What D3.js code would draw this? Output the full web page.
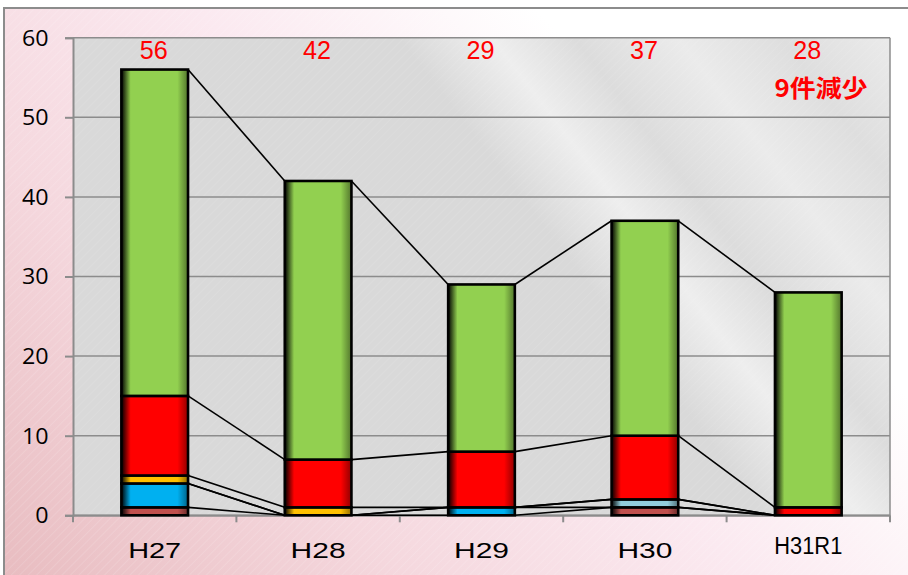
<!DOCTYPE html>
<html><head><meta charset="utf-8">
<script src="https://cdn.jsdelivr.net/npm/d3@7"></script>
<style>html,body{margin:0;padding:0;background:#fff;}svg{display:block;}</style>
</head><body>
<script>
// ---- data ----
const categories = ["H27", "H28", "H29", "H30", "H31R1"];
const seriesNames = ["s1", "s2", "s3", "s4", "s5", "s6"];
const s1 = [1, 0, 0, 1, 0];     // brown
const s2 = [3, 0, 1, 0, 0];     // blue
const s3 = [0, 0, 0, 1, 0];     // light blue
const s4 = [1, 1, 0, 0, 0];     // yellow
const s5 = [10, 6, 7, 8, 1];    // red
const s6 = [41, 35, 21, 27, 27];// green
const totals = [56, 42, 29, 37, 28];
const yTicks = [0, 10, 20, 30, 40, 50, 60];
const note = "9件減少";
const colors = ["#c0504d", "#00b0f0", "#92cddc", "#ffc000", "#ff0000", "#92d050"];

const W = 908, H = 575;
const svg = d3.select("body").append("svg").attr("width", W).attr("height", H);
const defs = svg.append("defs");

// outer background gradient
const og = defs.append("linearGradient").attr("id", "outerBg")
  .attr("gradientUnits", "userSpaceOnUse").attr("x1", 0).attr("y1", 575).attr("x2", 700).attr("y2", -100);
[[0, "#e8bcc0"], [0.3, "#f5d8de"], [0.55, "#fbe9f0"], [0.8, "#ffffff"], [1, "#ffffff"]]
  .forEach(([o, c]) => og.append("stop").attr("offset", o).attr("stop-color", c));

// plot background gradient (brushed)
const pg = defs.append("linearGradient").attr("id", "plotBg")
  .attr("gradientUnits", "userSpaceOnUse").attr("x1", 250).attr("y1", 450).attr("x2", 900).attr("y2", -50);
[[0, "#d9d9d9"], [0.45, "#d9d9d9"], [0.54, "#eeeeee"], [0.62, "#dcdcdc"], [0.72, "#ebebeb"], [0.82, "#dedede"], [0.92, "#eaeaea"], [1, "#f6f6f6"]]
  .forEach(([o, c]) => pg.append("stop").attr("offset", o).attr("stop-color", c));

// hatch pattern
const hp = defs.append("pattern").attr("id", "hatch").attr("patternUnits", "userSpaceOnUse")
  .attr("width", 6).attr("height", 6).attr("patternTransform", "rotate(45)");
hp.append("line").attr("x1", 0).attr("y1", 0).attr("x2", 0).attr("y2", 6)
  .attr("stroke", "#ffffff").attr("stroke-width", 1).attr("stroke-opacity", 0.25);

// bar gradients
colors.forEach((c, i) => {
  const g = defs.append("linearGradient").attr("id", "bar" + i).attr("x1", 0).attr("y1", 0).attr("x2", 1).attr("y2", 0);
  const dark = d3.color(c).darker(1.6);
  [[0, "#000000"], [0.14, c], [0.84, c], [1, dark.formatHex()]]
    .forEach(([o, col]) => g.append("stop").attr("offset", o).attr("stop-color", col));
});

// outer frame
svg.append("rect").attr("x", 4).attr("y", 8).attr("width", 910).attr("height", 580)
  .attr("fill", "url(#outerBg)");
svg.append("rect").attr("x", 4).attr("y", 8).attr("width", 910).attr("height", 580)
  .attr("fill", "url(#hatch)");
svg.append("rect").attr("x", 4).attr("y", 8).attr("width", 910).attr("height", 580)
  .attr("fill", "none").attr("stroke", "#8c8c8c").attr("stroke-width", 2);

// scales
const px0 = 73, px1 = 890, py0 = 515.3, py1 = 37.7;
const x = d3.scaleBand().domain(categories).range([px0, px1]).paddingInner(0).paddingOuter(0);
const y = d3.scaleLinear().domain([0, 60]).range([py0, py1]);
const barW = x.bandwidth() * 0.408;
const barX = c => x(c) + (x.bandwidth() - barW) / 2;

// plot area
svg.append("rect").attr("x", px0).attr("y", py1).attr("width", px1 - px0).attr("height", py0 - py1)
  .attr("fill", "url(#plotBg)");
svg.append("rect").attr("x", px0).attr("y", py1).attr("width", px1 - px0).attr("height", py0 - py1)
  .attr("fill", "url(#hatch)").attr("opacity", 0.6);

// gridlines
svg.append("g").selectAll("line").data(yTicks).join("line")
  .attr("x1", px0).attr("x2", px1).attr("y1", d => y(d)).attr("y2", d => y(d))
  .attr("stroke", "#8c8c8c").attr("stroke-width", 1.5);
svg.append("line").attr("x1", px1).attr("x2", px1).attr("y1", py1).attr("y2", py0)
  .attr("stroke", "#8c8c8c").attr("stroke-width", 1.5);

// y axis
const yAxis = d3.axisLeft(y).tickValues(yTicks).tickSize(8).tickFormat("");
const ya = svg.append("g").attr("transform", `translate(${px0},0)`).call(yAxis);
ya.select(".domain").attr("stroke", "#8c8c8c").attr("stroke-width", 2);
ya.selectAll(".tick line").attr("stroke", "#8c8c8c").attr("stroke-width", 2);
svg.append("g").selectAll("text").data(yTicks).join("text")
  .attr("x", 48.5).attr("y", d => y(d) + 7.8)
  .attr("text-anchor", "end")
  .attr("font-family", "'Open Sans', 'Noto Sans', sans-serif")
  .attr("font-size", 22)
  .attr("textLength", d => String(d).length * 13.3)
  .attr("lengthAdjust", "spacingAndGlyphs")
  .attr("fill", "#000")
  .text(d => d);

// x axis
const xa = svg.append("g").attr("transform", `translate(0,${py0})`)
  .call(d3.axisBottom(x).tickSize(0).tickFormat(""));
xa.select(".domain").attr("stroke", "#8c8c8c").attr("stroke-width", 2);
const bounds = categories.map(c => x(c)).concat([px1]);
svg.append("g").selectAll("line").data(bounds).join("line")
  .attr("x1", d => d).attr("x2", d => d).attr("y1", py0).attr("y2", py0 + 7)
  .attr("stroke", "#8c8c8c").attr("stroke-width", 2);
const xLabelWidth = [53, 55, 55, 55, 68];
svg.append("g").selectAll("text").data(categories).join("text")
  .attr("x", d => x(d) + x.bandwidth() / 2)
  .attr("y", (d, i) => i === 4 ? 553.5 : 557.5)
  .attr("text-anchor", "middle")
  .attr("font-family", "'Liberation Sans', Arial, sans-serif")
  .attr("font-size", (d, i) => i === 4 ? 23 : 22)
  .attr("textLength", (d, i) => xLabelWidth[i])
  .attr("lengthAdjust", "spacingAndGlyphs")
  .attr("fill", "#000")
  .text(d => d);

// stacked data
const seriesData = [s1, s2, s3, s4, s5, s6];
const rows = categories.map((c, i) => {
  const r = { cat: c };
  seriesNames.forEach((n, k) => r[n] = seriesData[k][i]);
  return r;
});
const stacked = d3.stack().keys(seriesNames)(rows);

// series lines
const lines = svg.append("g");
stacked.forEach(layer => {
  for (let i = 0; i < categories.length - 1; i++) {
    lines.append("line")
      .attr("x1", barX(categories[i]) + barW).attr("y1", y(layer[i][1]))
      .attr("x2", barX(categories[i + 1])).attr("y2", y(layer[i + 1][1]))
      .attr("stroke", "#000").attr("stroke-width", 1.6);
  }
});

// bars
stacked.forEach((layer, k) => {
  svg.append("g").selectAll("rect").data(layer.filter(d => d[1] - d[0] > 0)).join("rect")
    .attr("x", d => barX(d.data.cat))
    .attr("width", barW)
    .attr("y", d => y(d[1]))
    .attr("height", d => y(d[0]) - y(d[1]))
    .attr("fill", `url(#bar${k})`)
    .attr("stroke", "#000").attr("stroke-width", 2.6);
});

// total labels
svg.append("g").selectAll("text").data(totals).join("text")
  .attr("x", (d, i) => x(categories[i]) + x.bandwidth() / 2 - 1)
  .attr("y", 58.5)
  .attr("text-anchor", "middle")
  .attr("font-family", "'Liberation Sans', Arial, sans-serif")
  .attr("font-size", 25)
  .attr("textLength", 28).attr("lengthAdjust", "spacingAndGlyphs")
  .attr("fill", "#ff0000")
  .text(d => d);

// note
svg.append("text")
  .attr("x", 821).attr("y", 97)
  .attr("text-anchor", "middle")
  .attr("font-family", "'Noto Sans CJK JP', sans-serif")
  .attr("font-weight", "bold")
  .attr("font-size", 24)
  .attr("textLength", 93).attr("lengthAdjust", "spacingAndGlyphs")
  .attr("fill", "#ff0000")
  .text(note);
</script>
</body></html>
